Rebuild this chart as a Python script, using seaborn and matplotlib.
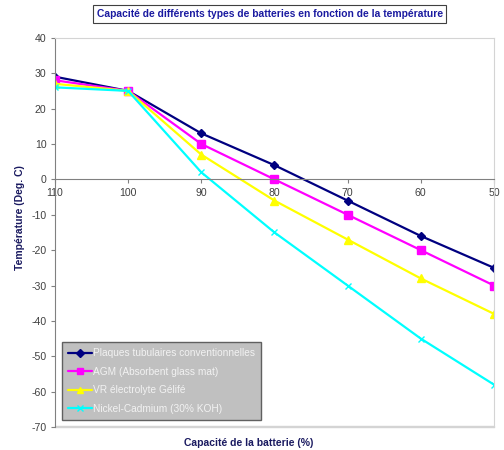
import matplotlib
matplotlib.use("Agg")
import matplotlib.pyplot as plt
import pandas as pd
import seaborn as sns
from matplotlib.patches import Rectangle

# battery capacity (%) on x, temperature (deg C) on y
capacity = [110, 100, 90, 80, 70, 60, 50]
series_names = [
    "Plaques tubulaires conventionnelles",
    "AGM (Absorbent glass mat)",
    "VR électrolyte Gélifé",
    "Nickel-Cadmium (30% KOH)",
]
temp_tubular = [29, 25, 13, 4, -6, -16, -25]
temp_agm = [28, 25, 10, 0, -10, -20, -30]
temp_gel = [27, 25, 7, -6, -17, -28, -38]
temp_nicd = [26, 25, 2, -15, -30, -45, -58]

colors = ["#000080", "#FF00FF", "#FFFF00", "#00FFFF"]
markers = ["D", "s", "^", "x"]
marker_sizes = [4.5, 5.5, 6, 5]

sns.set_style("white")
plt.rcParams["font.family"] = ["Liberation Sans", "DejaVu Sans"]
plt.rcParams["axes.unicode_minus"] = False

fig = plt.figure(figsize=(5.04, 4.5), dpi=100)
ax = fig.add_axes([0.109, 0.051, 0.871, 0.865])

all_temps = [temp_tubular, temp_agm, temp_gel, temp_nicd]
for name, vals, col, mk, ms in zip(series_names, all_temps, colors, markers, marker_sizes):
    df = pd.DataFrame({"capacity": capacity, "temp": vals})
    sns.lineplot(
        data=df, x="capacity", y="temp", color=col, marker=mk, markersize=ms,
        markeredgecolor=col, markeredgewidth=1.0, linewidth=1.6, label=name, ax=ax,
    )

ax.set_xlim(110, 50)
ax.set_ylim(-70, 40)
ax.set_xticks(capacity)
ax.set_yticks(range(-70, 41, 10))
ax.set_xlabel("")
ax.set_ylabel("")

# plot-area frame in light grey, value axis darker
for side in ["top", "right"]:
    ax.spines[side].set_color("#d4d4d4")
ax.spines["left"].set_color("#808080")
ax.spines["bottom"].set_position(("data", 0))
ax.spines["bottom"].set_color("#808080")
ax.add_patch(Rectangle((0, 0), 1, 0.002, transform=ax.transAxes,
                       color="#d4d4d4", clip_on=False, zorder=0))
ax.tick_params(axis="both", direction="out", length=3, width=0.8,
               color="#808080", labelsize=7.6, labelcolor="#404040", pad=3)
ax.tick_params(axis="x", bottom=True)
ax.tick_params(axis="y", left=True)

leg = ax.legend(
    loc="lower left", bbox_to_anchor=(0.016, 0.018), borderaxespad=0,
    fontsize=7.3, fancybox=False, frameon=True, handlelength=2.4,
    handletextpad=0.1, labelspacing=0.85, borderpad=0.6, markerscale=0.8,
)
leg.get_frame().set_facecolor("#c0c0c0")
leg.get_frame().set_edgecolor("#606060")
leg.get_frame().set_linewidth(1.0)
leg.get_frame().set_alpha(1)
for txt in leg.get_texts():
    txt.set_color("#f2f2f2")

fig.text(0.535, 0.969,
         "Capacité de différents types de batteries en fonction de la température",
         ha="center", va="center", fontsize=7.4, fontweight="bold", color="#1a1aa0",
         bbox=dict(boxstyle="square,pad=0.35", facecolor="white", edgecolor="#404040",
                   linewidth=0.8))
fig.text(0.04, 0.516, "Température (Deg. C)", rotation=90, ha="center", va="center",
         fontsize=7.5, fontweight="bold", color="#1a1a60")
fig.text(0.494, 0.016, "Capacité de la batterie (%)", ha="center", va="center",
         fontsize=7.5, fontweight="bold", color="#1a1a60")

fig.savefig("out.png", dpi=100)
